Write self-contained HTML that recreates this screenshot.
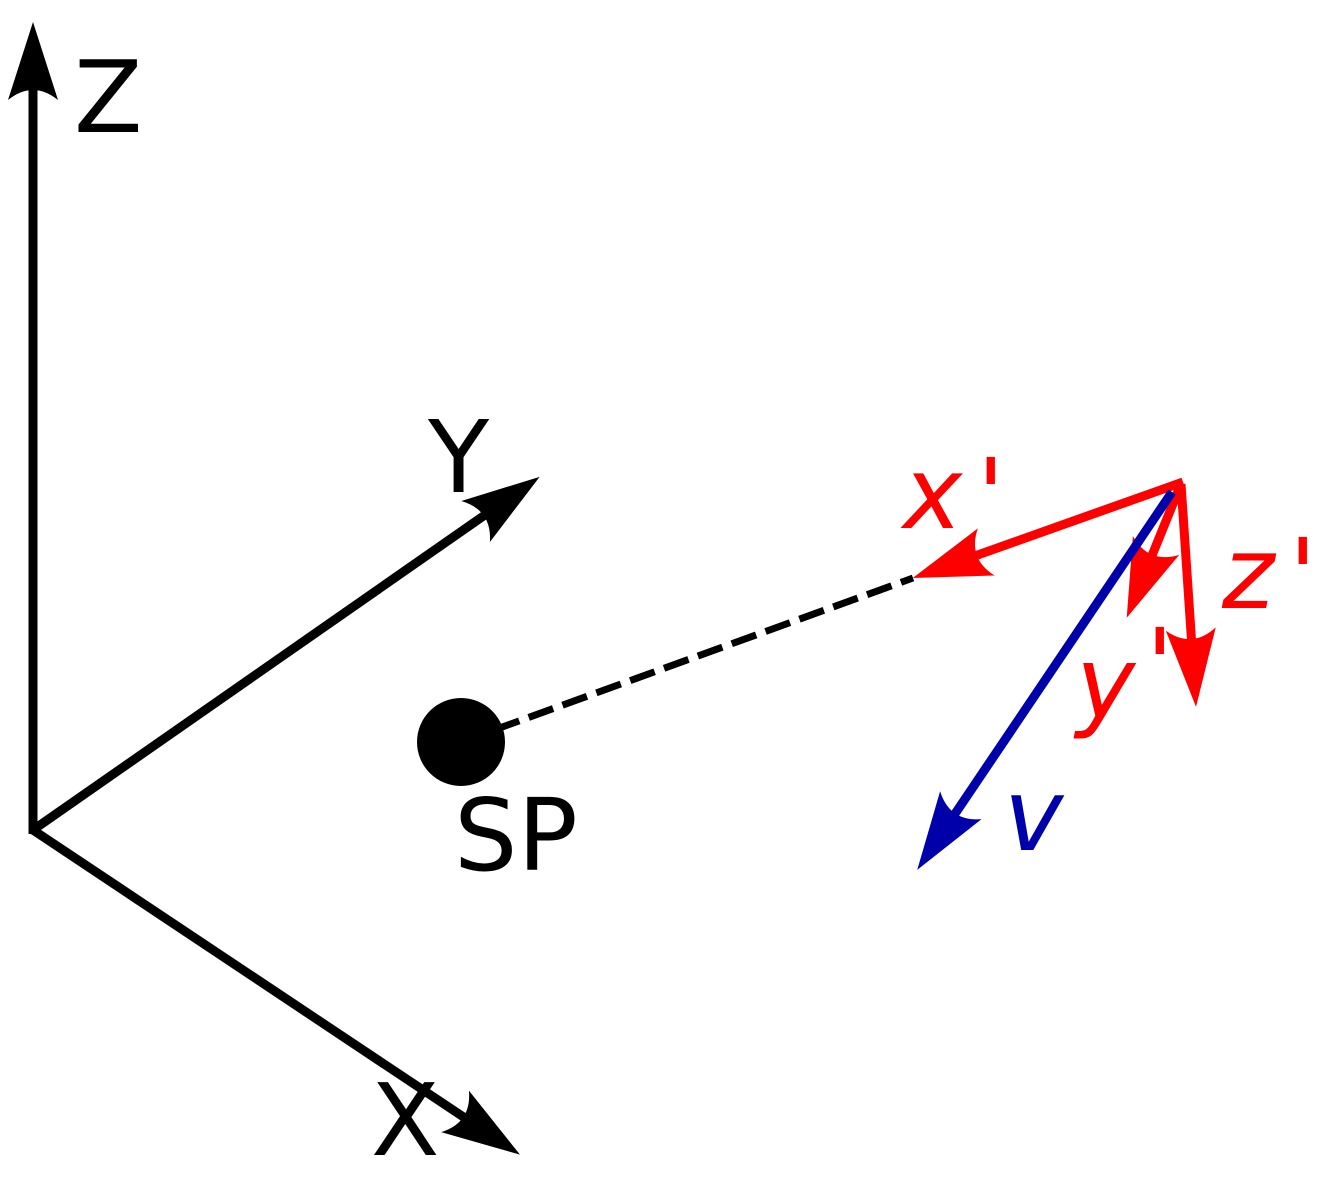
<!DOCTYPE html>
<html><head><style>html,body{margin:0;padding:0;background:#fff}svg{display:block}
text{font-family:"DejaVu Sans","Liberation Sans",sans-serif;font-size:100px}</style></head>
<body>
<svg width="1328" height="1179" viewBox="0 0 1328 1179" xmlns="http://www.w3.org/2000/svg">
<defs>
<marker id="ak" markerUnits="userSpaceOnUse" markerWidth="120" markerHeight="100" viewBox="-60 -50 120 100" refX="0" refY="0" orient="auto" overflow="visible">
<path d="M30,0 L-48,-25 Q-28,0 -48,25 Z" fill="#000"/></marker>
<marker id="ar" markerUnits="userSpaceOnUse" markerWidth="120" markerHeight="100" viewBox="-60 -50 120 100" refX="0" refY="0" orient="auto" overflow="visible">
<path d="M30,0 L-48,-25 Q-28,0 -48,25 Z" fill="#f00"/></marker>
<marker id="ab" markerUnits="userSpaceOnUse" markerWidth="120" markerHeight="100" viewBox="-60 -50 120 100" refX="0" refY="0" orient="auto" overflow="visible">
<path d="M30,0 L-48,-25 Q-28,0 -48,25 Z" fill="#0000aa"/></marker>
</defs>
<g stroke="#000" stroke-width="9" fill="none">
<line x1="33" y1="834" x2="33" y2="52" marker-end="url(#ak)"/>
<line x1="33" y1="830" x2="515" y2="494" marker-end="url(#ak)"/>
<line x1="33" y1="830" x2="495" y2="1138" marker-end="url(#ak)"/>
<line x1="461" y1="742" x2="913" y2="578" stroke-width="7" stroke-dasharray="26,10"/>
</g>
<circle cx="461" cy="742" r="44" fill="#000"/>
<g stroke="#f00" stroke-width="9" fill="none">
<line x1="1183" y1="482" x2="941" y2="568" marker-end="url(#ar)"/>
<line x1="1181" y1="484" x2="1138" y2="590" marker-end="url(#ar)"/>
<line x1="1181" y1="484" x2="1194" y2="677" marker-end="url(#ar)"/>
</g>
<line x1="1172" y1="492" x2="934" y2="845" stroke="#0000aa" stroke-width="9" marker-end="url(#ab)"/>
<text x="74" y="132">Z</text>
<text x="428" y="492">Y</text>
<text x="371" y="1155">X</text>
<text x="454" y="870">SP</text>
<g fill="#f00" font-style="italic">
<text x="903" y="528">x</text>
<text x="1076" y="718">y</text>
<text x="1222" y="608">z</text>
<text x="977" y="530">'</text>
<text x="1146" y="700">'</text>
<text x="1289" y="610">'</text>
</g>
<text x="1004" y="850" fill="#0000aa" font-style="italic">v</text>
</svg>
</body></html>
